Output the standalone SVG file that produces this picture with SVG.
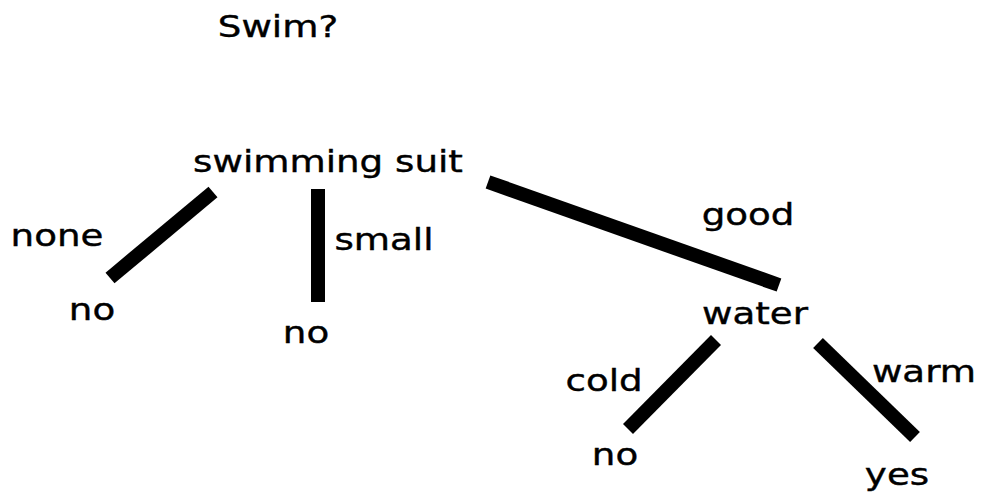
<svg xmlns="http://www.w3.org/2000/svg" width="982" height="501" viewBox="0 0 982 501">
<style>
text{font-family:"DejaVu Sans","Liberation Sans",sans-serif;font-size:31px;fill:#000;stroke:#000;stroke-width:0.4;text-anchor:middle}
.e{stroke:#000;stroke-width:14;stroke-linecap:butt}
</style>
<rect width="982" height="501" fill="#fff"/>
<g id="title"><text transform="translate(278,37) scale(1.2,1)">Swim?</text></g>
<g id="connectors">
<line class="e" x1="213" y1="192" x2="110" y2="278"/>
<line class="e" x1="318" y1="189" x2="318" y2="302"/>
<line class="e" x1="488" y1="182" x2="779" y2="285"/>
<line class="e" x1="716" y1="340" x2="628" y2="429"/>
<line class="e" x1="818" y1="343" x2="915" y2="437"/>
<text transform="translate(57,246) scale(1.2,1)">none</text>
<text transform="translate(384,250) scale(1.2,1)">small</text>
<text transform="translate(748,225) scale(1.2,1)">good</text>
<text transform="translate(604,391) scale(1.2,1)">cold</text>
<text transform="translate(924,382) scale(1.2,1)">warm</text>
</g>
<g id="n-suit"><text transform="translate(328,172) scale(1.2,1)">swimming suit</text></g>
<g id="n-no1"><text transform="translate(92,320) scale(1.2,1)">no</text></g>
<g id="n-no2"><text transform="translate(306,343) scale(1.2,1)">no</text></g>
<g id="n-water"><text transform="translate(755,324) scale(1.2,1)">water</text></g>
<g id="n-no3"><text transform="translate(615,465) scale(1.2,1)">no</text></g>
<g id="n-yes"><text transform="translate(897,485) scale(1.2,1)">yes</text></g>
</svg>
